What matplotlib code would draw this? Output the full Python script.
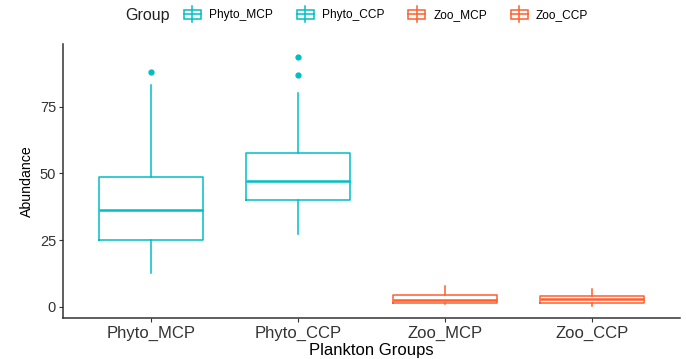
import matplotlib
matplotlib.use("Agg")
import matplotlib.pyplot as plt
from matplotlib.legend_handler import HandlerBase
from matplotlib.patches import Rectangle
from matplotlib.lines import Line2D

plt.rcParams['font.family'] = ['Liberation Sans', 'DejaVu Sans']

# --- data ---
groups = ['Phyto_MCP', 'Phyto_CCP', 'Zoo_MCP', 'Zoo_CCP']
q1 = [25.0, 40.0, 1.6, 1.6]
med = [36.2, 47.0, 2.6, 2.8]
q3 = [48.6, 57.5, 4.3, 4.1]
whislo = [12.6, 27.2, 1.0, 0.4]
whishi = [83.0, 80.0, 7.9, 6.6]
outliers = [[88.0], [86.8, 93.5], [], []]
colors = ['#00BFC4', '#00BFC4', '#FF5F2E', '#FF5F2E']

stats = []
for i, g in enumerate(groups):
    stats.append(dict(label=g, q1=q1[i], med=med[i], q3=q3[i],
                      whislo=whislo[i], whishi=whishi[i], fliers=outliers[i]))

fig = plt.figure(figsize=(6.86, 3.59), dpi=100)
ax = fig.add_axes([0.0918, 0.1142, 0.8992, 0.763])

for i, s in enumerate(stats):
    c = colors[i]
    ax.bxp([s], positions=[i + 1], widths=0.71, showcaps=False,
           boxprops=dict(color=c, linewidth=1.1),
           medianprops=dict(color=c, linewidth=1.8),
           whiskerprops=dict(color=c, linewidth=1.1),
           flierprops=dict(marker='o', markersize=3.5, markerfacecolor=c,
                           markeredgecolor=c))

ax.set_xlim(0.4, 4.6)
ax.set_ylim(-4.2, 98.4)
ax.set_yticks([0, 25, 50, 75])
ax.set_xticks(range(1, 5))
ax.set_xticklabels(groups)
for sp in ['top', 'right']:
    ax.spines[sp].set_visible(False)
for sp in ['left', 'bottom']:
    ax.spines[sp].set_color('#333333')
    ax.spines[sp].set_linewidth(1.1)
ax.tick_params(colors='#333333', labelsize=10.5, length=3, pad=2)
ax.tick_params(axis='x', labelsize=12, pad=3)
ax.set_xlabel('Plankton Groups', fontsize=12, labelpad=1)
ax.set_ylabel('Abundance', fontsize=10.2, labelpad=4)


class BoxHandler(HandlerBase):
    def create_artists(self, legend, orig_handle, xdescent, ydescent,
                       width, height, fontsize, trans):
        c = orig_handle.get_color()
        w = width
        x0 = xdescent
        r = Rectangle((x0, -ydescent + height * 0.1), w, height * 0.8,
                      fill=False, edgecolor=c, linewidth=1.1, transform=trans)
        m = Line2D([x0, x0 + w], [-ydescent + height / 2] * 2, color=c,
                   linewidth=1.1, transform=trans)
        v = Line2D([xdescent + width / 2] * 2, [-ydescent - height * 0.2, -ydescent + height * 1.2],
                   color=c, linewidth=1.1, transform=trans)
        return [r, m, v]


fig.text(0.183, 0.958, 'Group', fontsize=11.5, color='#222222',
         ha='left', va='center')
handles = [Line2D([], [], color=c) for c in colors]
leg = fig.legend(handles, groups, handler_map={Line2D: BoxHandler()},
                 loc='center', bbox_to_anchor=(0.563, 0.958), ncol=4,
                 frameon=False, fontsize=8.6,
                 handlelength=1.4, handleheight=1.1, handletextpad=0.7,
                 columnspacing=2.0, borderpad=0)

fig.savefig('out.png', dpi=100)
